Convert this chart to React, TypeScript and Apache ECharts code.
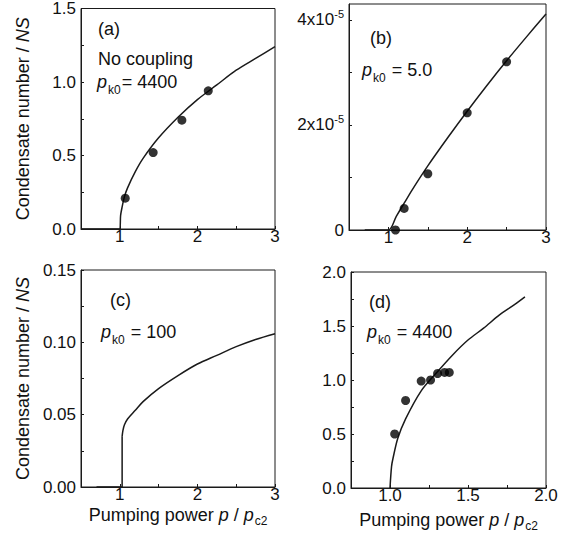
import React, { useEffect, useRef } from "react";
import * as echarts from "echarts";

// Panel (a): No coupling, p_k0 = 4400
const curveAX = [0.5, 1.0, 1.01, 1.03, 1.06, 1.1, 1.2, 1.3, 1.5, 1.75, 2.0, 2.25, 2.5, 2.75, 3.0];
const curveAY = [0, 0, 0.09, 0.15, 0.22, 0.28, 0.39, 0.48, 0.62, 0.76, 0.88, 0.98, 1.08, 1.16, 1.24];
const pointsAX = [1.07, 1.43, 1.8, 2.14];
const pointsAY = [0.21, 0.52, 0.74, 0.94];

// Panel (b): p_k0 = 5.0
const curveBX = [0.7, 1.0, 1.1, 1.2, 1.3, 1.5, 1.75, 2.0, 2.25, 2.5, 2.75, 3.0];
const curveBY = [0, 0, 0.26e-5, 0.51e-5, 0.76e-5, 1.22e-5, 1.75e-5, 2.26e-5, 2.75e-5, 3.22e-5, 3.67e-5, 4.11e-5];
const pointsBX = [1.09, 1.2, 1.5, 2.0, 2.5];
const pointsBY = [0.0, 0.41e-5, 1.07e-5, 2.23e-5, 3.2e-5];

// Panel (c): p_k0 = 100 (flat part + jump, then rising branch)
const curveCStepX = [0.7, 1.03, 1.03];
const curveCStepY = [0, 0, 0.035];
const curveCRiseX = [1.03, 1.04, 1.06, 1.1, 1.2, 1.3, 1.5, 1.75, 2.0, 2.25, 2.5, 2.75, 3.0];
const curveCRiseY = [0.035, 0.039, 0.043, 0.047, 0.053, 0.059, 0.068, 0.077, 0.085, 0.091, 0.097, 0.102, 0.106];

// Panel (d): p_k0 = 4400
const curveDX = [1.0, 1.01, 1.02, 1.05, 1.1, 1.2, 1.3, 1.4, 1.5, 1.6, 1.7, 1.8, 1.865];
const curveDY = [0, 0.2, 0.28, 0.46, 0.64, 0.9, 1.07, 1.23, 1.37, 1.48, 1.6, 1.7, 1.77];
const pointsDX = [1.03, 1.1, 1.2, 1.26, 1.305, 1.35, 1.38];
const pointsDY = [0.5, 0.81, 0.99, 1.0, 1.06, 1.07, 1.07];

const panelLabels = ["(a)", "(b)", "(c)", "(d)"];
const pk0Values = ["= 4400", " = 5.0", " = 100", " = 4400"];

const FONT = "Liberation Sans, Arial, sans-serif";
const INK = "#1a1a1a";

const zip = (xs: number[], ys: number[]) => xs.map((x, i) => [x, ys[i]]);
const near = (v: number, step: number) => Math.abs(v / step - Math.round(v / step)) < 1e-6;

export default function App() {
  const ref = useRef<HTMLDivElement>(null);
  useEffect(() => {
    if (!ref.current) return;
    const chart = echarts.init(ref.current, null, { renderer: "svg" });

    const grids = [
      { left: 81, top: 7, width: 194, height: 222 },
      { left: 349, top: 4, width: 197, height: 226 },
      { left: 81, top: 270, width: 194, height: 217 },
      { left: 351, top: 272, width: 195, height: 216 },
    ].map((g) => ({ ...g, show: true, borderColor: INK, borderWidth: 1, containLabel: false }));

    const axisBase = {
      type: "value" as const,
      splitLine: { show: false },
      axisLine: { show: true, onZero: false, lineStyle: { color: INK, width: 1 } },
      axisTick: { show: true, inside: true, length: 3, lineStyle: { color: INK, width: 1 } },
    };
    const labelBase = { fontSize: 17, color: "#111", fontFamily: FONT, margin: 5 };
    const xLabelBase = { ...labelBase, margin: 0, lineHeight: 14 };

    const yName = "{n|Condensate number / }{i|NS}";
    const yNameStyle = {
      fontSize: 18,
      fontFamily: FONT,
      color: "#111",
      rich: {
        n: { fontSize: 18, fontFamily: FONT, color: "#111" },
        i: { fontSize: 18, fontFamily: FONT, color: "#111", fontStyle: "italic" },
      },
    };
    const xName = "{n|Pumping power }{i|p}{n| / }{i|p}{s|c2}";
    const xNameStyle = {
      fontSize: 18,
      fontFamily: FONT,
      color: "#111",
      rich: {
        n: { fontSize: 18, fontFamily: FONT, color: "#111", lineHeight: 18, verticalAlign: "middle" },
        i: { fontSize: 18, fontFamily: FONT, color: "#111", fontStyle: "italic", lineHeight: 18, verticalAlign: "middle" },
        s: { fontSize: 12, fontFamily: FONT, color: "#111", lineHeight: 12, verticalAlign: "bottom", padding: [0, 0, -3, 1] },
      },
    };

    const intLabel = (v: number) => (near(v, 1) ? String(Math.round(v)) : "");
    const halfLabel = (v: number) => (near(v, 0.5) ? v.toFixed(1) : "");

    const xAxis = [
      { ...axisBase, gridIndex: 0, min: 0.5, max: 3, interval: 0.5, axisLabel: { ...xLabelBase, formatter: intLabel } },
      { ...axisBase, gridIndex: 1, min: 0.5, max: 3, interval: 0.5, axisLabel: { ...xLabelBase, formatter: intLabel } },
      {
        ...axisBase, gridIndex: 2, min: 0.5, max: 3, interval: 0.5, axisLabel: { ...xLabelBase, formatter: intLabel },
        name: xName, nameLocation: "middle", nameGap: 19, nameMoveOverlap: false, nameTextStyle: xNameStyle,
      },
      {
        ...axisBase, gridIndex: 3, min: 0.75, max: 2, interval: 0.25, axisLabel: { ...xLabelBase, formatter: halfLabel },
        name: xName, nameLocation: "middle", nameGap: 23, nameMoveOverlap: false, nameTextStyle: xNameStyle,
      },
    ];

    const yAxis = [
      {
        ...axisBase, gridIndex: 0, min: 0, max: 1.5, interval: 0.25,
        axisLabel: { ...labelBase, formatter: halfLabel },
        name: yName, nameLocation: "middle", nameGap: 49, nameMoveOverlap: false, nameTextStyle: yNameStyle,
      },
      {
        ...axisBase, gridIndex: 1, min: 0, max: 4.3e-5, interval: 1e-5,
        axisLabel: {
          ...labelBase,
          showMaxLabel: false,
          formatter: (v: number) => {
            const k = Math.round(v / 1e-5);
            if (Math.abs(v / 1e-5 - k) > 1e-6 || k % 2 !== 0) return "";
            if (k === 0) return "0";
            return `{b|${k}x10}{s|-5}`;
          },
          rich: {
            b: { fontSize: 17, fontFamily: FONT, color: "#111", lineHeight: 22, verticalAlign: "middle" },
            s: { fontSize: 11, fontFamily: FONT, color: "#111", lineHeight: 11, verticalAlign: "top" },
          },
        },
      },
      {
        ...axisBase, gridIndex: 2, min: 0, max: 0.15, interval: 0.025,
        axisLabel: { ...labelBase, formatter: (v: number) => (near(v, 0.05) ? v.toFixed(2) : "") },
        name: yName, nameLocation: "middle", nameGap: 49, nameMoveOverlap: false, nameTextStyle: yNameStyle,
      },
      {
        ...axisBase, gridIndex: 3, min: 0, max: 2, interval: 0.25,
        axisLabel: { ...labelBase, formatter: halfLabel },
      },
    ];

    const lineSeries = (idx: number, xs: number[], ys: number[], smooth: number) => ({
      type: "line",
      xAxisIndex: idx,
      yAxisIndex: idx,
      data: zip(xs, ys),
      showSymbol: false,
      symbol: "none",
      smooth,
      lineStyle: { color: INK, width: 1.5 },
      clip: false,
      z: 3,
    });
    const dotSeries = (idx: number, xs: number[], ys: number[]) => ({
      type: "scatter",
      xAxisIndex: idx,
      yAxisIndex: idx,
      data: zip(xs, ys),
      symbol: "circle",
      symbolSize: 9,
      itemStyle: { color: "#000" },
      clip: false,
      z: 4,
    });

    const series = [
      lineSeries(0, curveAX, curveAY, 0.3),
      dotSeries(0, pointsAX, pointsAY),
      lineSeries(1, curveBX, curveBY, 0.3),
      dotSeries(1, pointsBX, pointsBY),
      lineSeries(2, curveCStepX, curveCStepY, 0),
      lineSeries(2, curveCRiseX, curveCRiseY, 0.3),
      lineSeries(3, curveDX, curveDY, 0.3),
      dotSeries(3, pointsDX, pointsDY),
    ];

    const textRich = {
      n: { fontSize: 18, fontFamily: FONT, fill: "#111", lineHeight: 22, verticalAlign: "middle" },
      i: { fontSize: 18, fontFamily: FONT, fill: "#111", fontStyle: "italic", lineHeight: 22, verticalAlign: "middle" },
      sub: { fontSize: 12, fontFamily: FONT, fill: "#111", lineHeight: 12, verticalAlign: "bottom", padding: [0, 1, -3, 1] },
    };
    const txt = (x: number, y: number, text: string) => ({
      type: "text",
      x,
      y,
      style: {
        text,
        x: 0,
        y: 0,
        fill: "#111",
        font: `18px ${FONT}`,
        verticalAlign: "middle",
        align: "left",
        rich: textRich,
      },
      z: 10,
    });
    const pk0 = (x: number, y: number, v: string) => txt(x, y, `{i|p}{sub|k0}{n|${v}}`);

    const graphic = [
      txt(98, 29, `{n|${panelLabels[0]}}`),
      txt(98, 59, "{n|No coupling}"),
      pk0(97, 82, pk0Values[0]),
      txt(370, 38, `{n|${panelLabels[1]}}`),
      pk0(362, 70, pk0Values[1]),
      txt(110, 300, `{n|${panelLabels[2]}}`),
      pk0(101, 332, pk0Values[2]),
      txt(369, 302, `{n|${panelLabels[3]}}`),
      pk0(367, 332, pk0Values[3]),
    ];

    chart.setOption({
      animation: false,
      backgroundColor: "#fff",
      textStyle: { fontFamily: FONT },
      grid: grids,
      xAxis,
      yAxis,
      series,
      graphic,
    });
    return () => chart.dispose();
  }, []);

  return <div ref={ref} style={{ width: 565, height: 547, position: "absolute", left: 0, top: 0 }} />;
}
